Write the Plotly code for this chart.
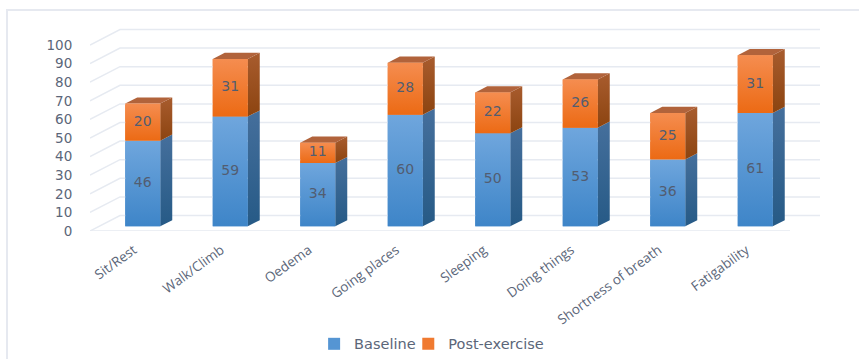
import plotly.graph_objects as go

categories = ["Sit/Rest", "Walk/Climb", "Oedema", "Going places", "Sleeping",
              "Doing things", "Shortness of breath", "Fatigability"]
baseline = [46, 59, 34, 60, 50, 53, 36, 61]
post_exercise = [20, 31, 11, 28, 22, 26, 25, 31]
y_ticks = [0, 10, 20, 30, 40, 50, 60, 70, 80, 90, 100]

# Oblique projection: full floor depth expressed in axis units.
DEPTH_X = 30 / 87.5
DEPTH_Y = 15.5 / 1.86
BAR_FRONT, BAR_BACK = 0.3, 0.7
BAR_WIDTH = 0.4
X_MIN, X_MAX = -0.5, 7.5

GRID = "#e6eaf1"
TEXT = "#5b6679"
BLUE = dict(mid="#5595d3", front=("#6fa6dd", "#3e85c8"), side=("#456f9c", "#265a86"))
ORANGE = dict(mid="#f07a30", front=("#f58d50", "#ec6a14"), side=("#a85c2e", "#8c4410"),
              cap="#b1633b")


def project(x, value, depth):
    return x + depth * DEPTH_X, value + depth * DEPTH_Y


def polygon(corners, **style):
    xs = [c[0] for c in corners] + [corners[0][0]]
    ys = [c[1] for c in corners] + [corners[0][1]]
    return go.Scatter(x=xs, y=ys, mode="lines", fill="toself", line=dict(width=0),
                      hoverinfo="skip", showlegend=False, **style)


def gradient(top, bottom):
    return dict(type="vertical", colorscale=[[0, bottom], [1, top]])


fig = go.Figure()

# Solid front faces carry the legend entries.
centres = [i + BAR_FRONT * DEPTH_X for i in range(len(categories))]
offset = BAR_FRONT * DEPTH_Y
fig.add_bar(x=centres, y=baseline, base=[offset] * len(baseline), width=BAR_WIDTH,
            name="Baseline", marker=dict(color=BLUE["mid"], line=dict(width=0)),
            hoverinfo="skip", legend="legend")
fig.add_bar(x=centres, y=post_exercise, base=[b + offset for b in baseline], width=BAR_WIDTH,
            name="Post-exercise", marker=dict(color=ORANGE["mid"], line=dict(width=0)),
            hoverinfo="skip", legend="legend2")

# Floor edge, side wall diagonals and back wall grid.
grid_x, grid_y = [], []
for t in y_ticks:
    p0 = project(X_MIN, t, 0)
    p1 = project(X_MIN, t, 1)
    p2 = project(X_MAX, t, 1)
    grid_x += [p0[0], p1[0], p2[0], None]
    grid_y += [p0[1], p1[1], p2[1], None]
grid_x += [X_MIN, X_MAX]
grid_y += [0, 0]
fig.add_trace(go.Scatter(x=grid_x, y=grid_y, mode="lines", line=dict(color=GRID, width=1.5),
                         hoverinfo="skip", showlegend=False))

# Shaded faces of each column.
half = BAR_WIDTH / 2
for i, (b, p) in enumerate(zip(baseline, post_exercise)):
    left, right = i - half, i + half
    total = b + p
    f = BAR_FRONT
    k = BAR_BACK
    fig.add_trace(polygon([project(right, 0, f), project(right, 0, k),
                           project(right, b, k), project(right, b, f)],
                          fillgradient=gradient(*BLUE["side"])))
    fig.add_trace(polygon([project(right, b, f), project(right, b, k),
                           project(right, total, k), project(right, total, f)],
                          fillgradient=gradient(*ORANGE["side"])))
    fig.add_trace(polygon([project(left, total, f), project(right, total, f),
                           project(right, total, k), project(left, total, k)],
                          fillcolor=ORANGE["cap"]))
    fig.add_trace(polygon([project(left, 0, f), project(right, 0, f),
                           project(right, b, f), project(left, b, f)],
                          fillgradient=gradient(*BLUE["front"])))
    fig.add_trace(polygon([project(left, b, f), project(right, b, f),
                           project(right, total, f), project(left, total, f)],
                          fillgradient=gradient(*ORANGE["front"])))

# Value labels centred on each segment.
fig.add_trace(go.Scatter(
    x=centres + centres,
    y=[b / 2 + offset for b in baseline] + [b + p / 2 + offset for b, p in zip(baseline, post_exercise)],
    text=[str(v) for v in baseline + post_exercise],
    mode="text", textposition="middle center",
    textfont=dict(family="DejaVu Sans", size=14, color="#525d71"),
    hoverinfo="skip", showlegend=False))

legend_style = dict(orientation="h", xanchor="left", y=-0.535, yanchor="middle",
                    font=dict(size=14.5, color=TEXT), itemwidth=30, bgcolor="rgba(0,0,0,0)")

fig.update_layout(
    width=859, height=359,
    margin=dict(l=90, r=39, t=20, b=128, autoexpand=False),
    paper_bgcolor="white", plot_bgcolor="white",
    barmode="overlay", showlegend=True,
    font=dict(family="DejaVu Sans", color=TEXT),
    legend=dict(x=0.307, **legend_style),
    legend2=dict(x=0.436, **legend_style),
    xaxis=dict(range=[X_MIN, X_MIN + 730 / 87.5], tickmode="array", automargin=False,
               tickvals=list(range(len(categories))), ticktext=categories,
               tickangle=-36, ticks="outside", ticklen=5, tickcolor="rgba(0,0,0,0)",
               tickfont=dict(family="Open Sans", size=13.5, color=TEXT),
               showgrid=False, zeroline=False, showline=False),
    yaxis=dict(range=[0, 211 / 1.86], tickmode="array", tickvals=y_ticks, automargin=False,
               ticks="outside", ticklen=14, tickcolor="rgba(0,0,0,0)",
               tickfont=dict(family="DejaVu Sans", size=13.5, color=TEXT),
               showgrid=False, zeroline=False, showline=False),
    shapes=[dict(type="path", xref="paper", yref="paper",
                 path="M %.4f %.4f L %.4f %.4f L %.4f %.4f" % (
                     (7 - 90) / 730, (231 - 359) / 211,
                     (7 - 90) / 730, (231 - 10) / 211,
                     (859 - 90) / 730, (231 - 10) / 211),
                 line=dict(color="#e6e9f0", width=2))],
)

fig.write_html("out.html", config=dict(displayModeBar=False))
